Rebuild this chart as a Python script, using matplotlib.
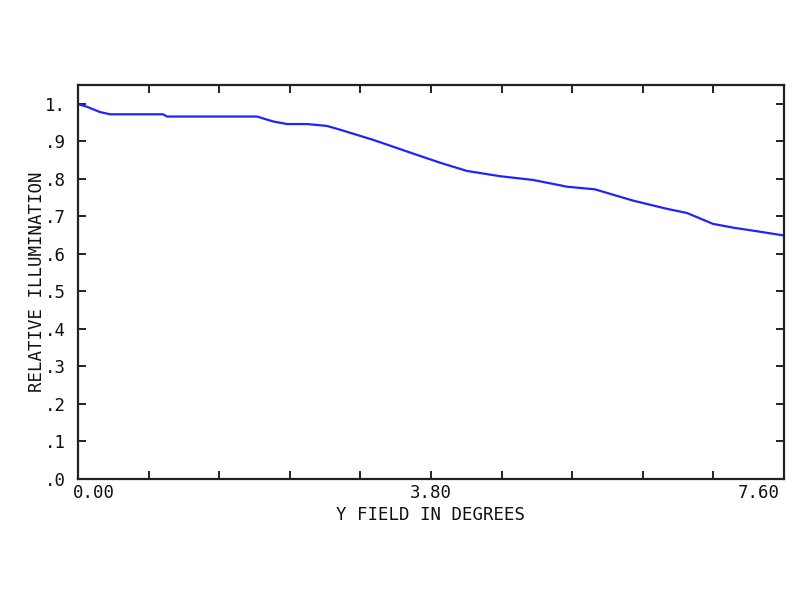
import numpy as np
import matplotlib
matplotlib.use("Agg")
import matplotlib.pyplot as plt

# relative illumination vs field
field_deg = [0.0, 0.097, 0.237, 0.344, 0.915, 0.958, 1.927, 2.099, 2.25, 2.465,
             2.68, 2.82, 3.176, 3.54, 3.897, 4.187, 4.543, 4.898, 5.264, 5.565,
             5.974, 6.34, 6.555, 6.835, 7.05, 7.342, 7.6]
rel_illum = [0.999, 0.992, 0.978, 0.972, 0.972, 0.966, 0.966, 0.953, 0.946, 0.946,
             0.941, 0.931, 0.904, 0.873, 0.843, 0.821, 0.807, 0.797, 0.779, 0.772,
             0.742, 0.720, 0.709, 0.680, 0.670, 0.659, 0.649]

y_ticks = [0.0, 0.1, 0.2, 0.3, 0.4, 0.5, 0.6, 0.7, 0.8, 0.9, 1.0]
y_labels = [".0", ".1", ".2", ".3", ".4", ".5", ".6", ".7", ".8", ".9", "1."]
x_minor = np.arange(11) * 0.76
x_major = [-0.06, 3.8, 7.56]
x_labels = ["0.00", "3.80", "7.60"]

FONT = "DejaVu Sans Mono"
FS = 12.5

fig = plt.figure(figsize=(8, 6), dpi=100)
ax = fig.add_axes([0.0975, 0.2017, 0.8825, 0.6566])
ax.plot(field_deg, rel_illum, color="#2222ff", lw=1.6)
ax.set_xlim(0, 7.6)
ax.set_ylim(0, 1.05)

ax.set_yticks(y_ticks)
ax.set_yticklabels(y_labels, family=FONT, fontsize=FS)
ax.set_xticks(x_minor)
ax.set_xticklabels([""] * len(x_minor))
for xv, lab, ha in zip(x_major, x_labels, ["left", "center", "right"]):
    ax.text(xv, -0.014, lab, transform=ax.get_xaxis_transform(), ha=ha, va="top",
            family=FONT, fontsize=FS, color="#111111")

ax.tick_params(axis="both", direction="in", length=6, width=1.4, color="#222222",
               top=True, right=True, labelcolor="#111111")
ax.tick_params(axis="y", pad=9)
for s in ax.spines.values():
    s.set_linewidth(1.6)
    s.set_color("#222222")

ax.set_xlabel("Y FIELD IN DEGREES", family=FONT, fontsize=FS, labelpad=16, color="#111111")
ax.set_ylabel("RELATIVE ILLUMINATION", family=FONT, fontsize=FS, labelpad=-1, color="#111111")

fig.savefig("out.png", dpi=100)
